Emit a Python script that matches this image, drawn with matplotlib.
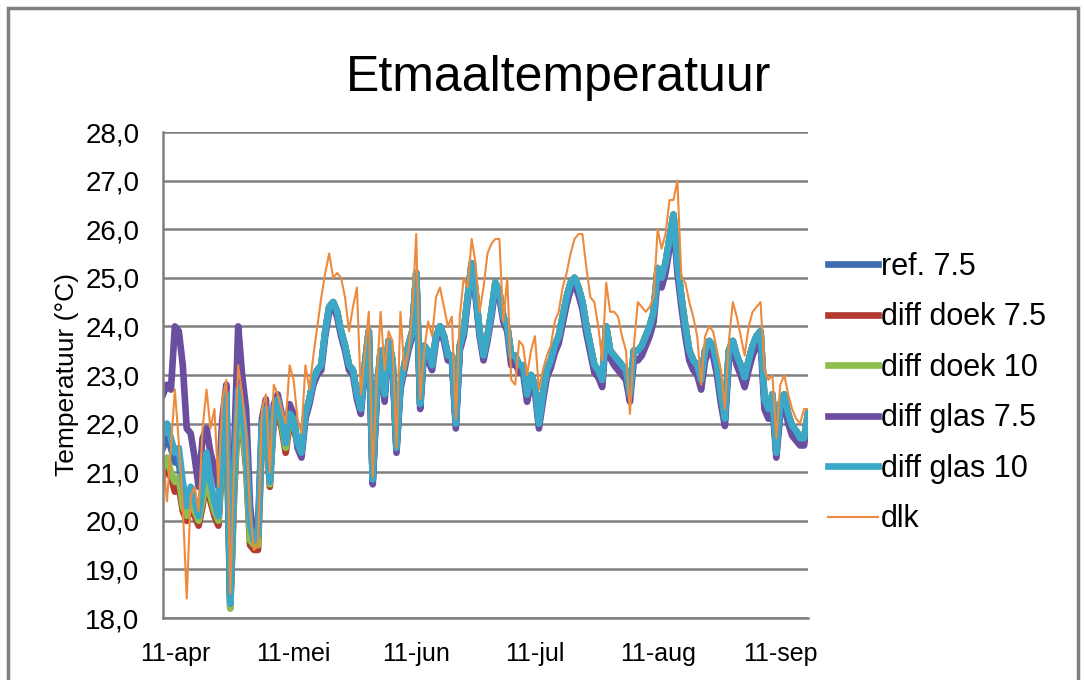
import pandas as pd
import matplotlib
matplotlib.use('Agg')
import matplotlib.pyplot as plt
from matplotlib.patches import Rectangle

plt.rcParams['font.family'] = ['Liberation Sans', 'DejaVu Sans']

# --- Data (daily values) ---
start_date = '2012-04-08'

# diff glas 10 (teal) - the line on top of the thick bundle
glas_10 = [
    21.8, 22.0, 21.7, 21.4, 21.5, 20.8, 20.3, 20.7, 20.4, 20.1,
    20.7, 21.4, 20.8, 20.4, 20.1, 21.7, 22.6, 18.3, 21.0, 22.7,
    22.3, 21.5, 19.9, 19.6, 19.7, 22.0, 22.3, 20.8, 22.3, 22.5,
    22.1, 21.6, 22.2, 22.1, 21.6, 21.4, 22.2, 22.5, 22.9, 23.1,
    23.2, 23.9, 24.4, 24.5, 24.3, 23.9, 23.6, 23.2, 23.1, 22.6,
    22.3, 23.2, 23.9, 20.85, 22.6, 23.5, 22.6, 23.7, 23.3, 21.5,
    22.8, 23.2, 23.6, 23.9, 25.1, 22.4, 23.6, 23.5, 23.2, 23.8,
    24.0, 23.8, 23.4, 23.4, 22.0, 23.6, 23.9, 24.6, 25.3, 24.7,
    23.9, 23.4, 23.8, 24.3, 24.9, 24.7, 24.2, 24.0, 23.4, 23.4,
    23.2, 23.2, 22.6, 23.0, 22.8, 22.0, 22.6, 23.1, 23.3, 23.6,
    23.8, 24.2, 24.6, 24.9, 25.0, 24.8, 24.5, 24.0, 23.6, 23.2,
    23.1, 22.9, 24.0, 23.5, 23.4, 23.3, 23.2, 23.1, 22.6, 23.5,
    23.5, 23.6, 23.8, 24.0, 24.3, 25.2, 25.0, 25.3, 25.8, 26.3,
    25.3, 24.6, 24.0, 23.5, 23.3, 23.2, 22.9, 23.5, 23.7, 23.6,
    23.2, 22.6, 22.1, 23.5, 23.7, 23.4, 23.2, 22.95, 23.3, 23.6,
    23.8, 23.9, 22.5, 22.3, 22.6, 21.4, 22.4, 22.6, 22.2, 21.95,
    21.85, 21.7, 21.7, 22.2,
]

# diff glas 7.5 (purple)
glas_75 = [
    22.6, 22.8, 22.7, 24.0, 23.9, 23.2, 21.9, 21.8, 21.3, 20.7,
    21.7, 21.9, 21.4, 21.1, 20.7, 22.1, 22.8, 18.3, 21.5, 24.0,
    23.0, 22.3, 20.3, 19.6, 19.8, 22.1, 22.5, 20.9, 22.4, 22.6,
    22.2, 21.7, 22.4, 22.2, 21.5, 21.3, 22.1, 22.4, 22.8, 23.0,
    23.1, 23.8, 24.3, 24.4, 24.2, 23.8, 23.5, 23.1, 23.0, 22.5,
    22.2, 23.1, 23.8, 20.75, 22.5, 23.4, 22.45, 23.6, 23.2, 21.4,
    22.7, 23.1, 23.5, 23.8, 25.0, 22.3, 23.5, 23.3, 23.1, 23.7,
    23.9, 23.7, 23.3, 23.3, 21.9, 23.5, 23.8, 24.5, 25.2, 24.6,
    23.8, 23.3, 23.7, 24.2, 24.8, 24.6, 24.1, 23.9, 23.2, 23.25,
    23.05, 23.05, 22.45, 22.85, 22.65, 21.9, 22.45, 22.95, 23.15, 23.45,
    23.65, 24.05, 24.45, 24.75, 24.85, 24.65, 24.35, 23.85, 23.45, 23.05,
    22.95, 22.75, 23.85, 23.35, 23.2, 23.1, 23.0, 22.9, 22.45, 23.3,
    23.3, 23.4, 23.6, 23.8, 24.1, 25.0, 24.8, 25.1, 25.6, 26.15,
    25.1, 24.4, 23.8, 23.3, 23.1, 23.0, 22.7, 23.3, 23.5, 23.4,
    23.0, 22.4, 21.95, 23.3, 23.5, 23.2, 23.0, 22.75, 23.1, 23.4,
    23.6, 23.7, 22.3, 22.1, 22.4, 21.3, 22.2, 22.4, 22.0, 21.75,
    21.65, 21.55, 21.55, 22.1,
]

# dlk (thin orange)
dlk = [
    21.3, 20.4, 21.5, 22.7, 21.6, 20.3, 18.4, 20.5, 20.7, 20.2,
    21.9, 22.7, 21.9, 22.3, 20.7, 22.5, 22.9, 18.5, 21.2, 23.2,
    22.6, 21.8, 20.2, 19.4, 19.5, 22.3, 22.6, 21.0, 22.8, 22.6,
    22.3, 22.0, 23.2, 22.9, 22.1, 21.8, 23.2, 22.7, 23.4, 24.0,
    24.6, 25.1, 25.5, 25.0, 25.1, 25.0, 24.6, 23.9, 24.4, 24.8,
    22.6, 23.4, 24.3, 20.9, 22.9, 24.3, 23.1, 23.9, 23.7, 21.5,
    24.3, 23.1, 23.5, 24.3, 25.9, 22.5, 23.5, 24.1, 23.8, 24.6,
    24.8, 24.4, 24.0, 24.2, 22.1, 24.2, 25.0, 24.8, 25.8, 25.3,
    24.3, 24.8, 25.5, 25.7, 25.8, 25.8, 24.1, 25.0, 22.9, 22.8,
    23.7, 23.6, 23.0, 23.5, 23.8, 22.7, 23.1, 23.4, 23.6, 24.1,
    24.3, 24.8, 25.1, 25.5, 25.8, 25.9, 25.9, 25.2, 24.6, 24.5,
    24.0, 23.3, 24.9, 24.3, 24.3, 24.2, 23.8, 23.5, 22.2, 23.6,
    24.5, 24.4, 24.3, 24.4, 24.6, 26.0, 25.6, 25.9, 26.6, 26.6,
    27.0, 25.0, 24.9, 24.5, 24.2, 23.8, 22.8, 23.8, 24.0, 23.9,
    23.5, 23.1, 22.3, 23.7, 24.5, 24.2, 23.8, 23.4, 24.0, 24.3,
    24.4, 24.5, 23.1, 22.9, 23.0, 21.7, 22.8, 23.0, 22.6, 22.3,
    22.1, 22.0, 22.3, 22.3,
]

# first five weeks, where the thick lines separate; afterwards they coincide with glas_10
ref_75_spring = [
    21.5, 21.7, 21.5, 21.2, 21.2, 20.6, 20.2, 20.6, 20.3, 20.0,
    20.6, 21.2, 20.7, 20.3, 20.0, 21.6, 22.5, 18.3, 20.9, 22.6,
    22.2, 21.4, 19.8, 19.5, 19.6, 21.9, 22.2, 20.8, 22.2, 22.4,
    22.0, 21.5, 22.1, 22.0,
]
doek_75_spring = [
    20.9, 21.1, 20.9, 20.6, 20.7, 20.2, 20.0, 20.3, 20.1, 19.9,
    20.3, 20.9, 20.4, 20.1, 19.9, 21.3, 22.3, 18.2, 20.6, 22.3,
    21.9, 21.1, 19.5, 19.4, 19.4, 21.7, 22.0, 20.7, 22.1, 22.3,
    21.9, 21.4, 22.0, 21.9,
]
doek_10_spring = [
    21.1, 21.3, 21.0, 20.8, 20.9, 20.3, 20.1, 20.4, 20.2, 20.0,
    20.4, 21.0, 20.5, 20.2, 20.0, 21.4, 22.4, 18.2, 20.7, 22.4,
    22.0, 21.2, 19.6, 19.5, 19.5, 21.8, 22.1, 20.75, 22.2, 22.4,
    22.0, 21.5, 22.1, 22.0,
]
ref_75 = ref_75_spring + glas_10[34:]
doek_75 = doek_75_spring + glas_10[34:]
doek_10 = doek_10_spring + glas_10[34:]

labels = ['ref. 7.5', 'diff doek 7.5', 'diff doek 10', 'diff glas 7.5', 'diff glas 10', 'dlk']
colors = ['#3F6DB4', '#B23A30', '#8DBE4E', '#6C4EA0', '#3AA8C6', '#EE8A3C']
series = [ref_75, doek_75, doek_10, glas_75, glas_10, dlk]

tick_dates = ['2012-04-11', '2012-05-11', '2012-06-11', '2012-07-11', '2012-08-11', '2012-09-11']
tick_labels = ['11-apr', '11-mei', '11-jun', '11-jul', '11-aug', '11-sep']

dates = pd.date_range(start_date, periods=len(glas_10), freq='D')

# --- Plot ---
fig = plt.figure(figsize=(10.84, 6.8), dpi=100)
fig.patches.append(Rectangle((8 / 1084, -0.02), 1070 / 1084, 1.02 - 8 / 680,
                             transform=fig.transFigure, fill=False,
                             edgecolor='#7f7f7f', lw=2.5))

ax = fig.add_axes([163 / 1084, 62 / 680, 645 / 1084, 486 / 680])
for vals, lab, col in zip(series, labels, colors):
    lw = 1.5 if lab == 'dlk' else 4.8
    ax.plot(dates, vals, color=col, lw=lw, label=lab, solid_joinstyle='round')

ax.set_ylim(18, 28)
ax.set_yticks(range(18, 29))
ax.set_yticklabels([f'{v},0' for v in range(18, 29)], fontsize=20)
ax.set_xlim(dates[0], dates[-1])
ax.set_xticks(pd.to_datetime(tick_dates))
ax.set_xticklabels(tick_labels, fontsize=18)
ax.tick_params(axis='y', length=0, pad=17)
ax.tick_params(axis='x', length=0, pad=17)
ax.grid(axis='y', color='#808080', lw=1.8)
ax.set_axisbelow(True)
for side in ['top', 'right']:
    ax.spines[side].set_visible(False)
ax.spines['left'].set_color('#808080')
ax.spines['bottom'].set_color('#808080')
ax.spines['left'].set_linewidth(1.8)
ax.spines['bottom'].set_linewidth(1.8)

fig.text(0.515, 0.885, 'Etmaaltemperatuur', fontsize=36, ha='center', va='center')
fig.text(0.062, 0.45, 'Temperatuur (°C)', fontsize=19, rotation=90, ha='center', va='center')

fig.legend(loc='upper left', bbox_to_anchor=(828 / 1084, 1 - 252 / 680), frameon=False,
           fontsize=22, handlelength=1.65, handletextpad=0.08, labelspacing=0.67,
           borderaxespad=0, borderpad=0)

fig.savefig('out.png', dpi=100, facecolor='white')
